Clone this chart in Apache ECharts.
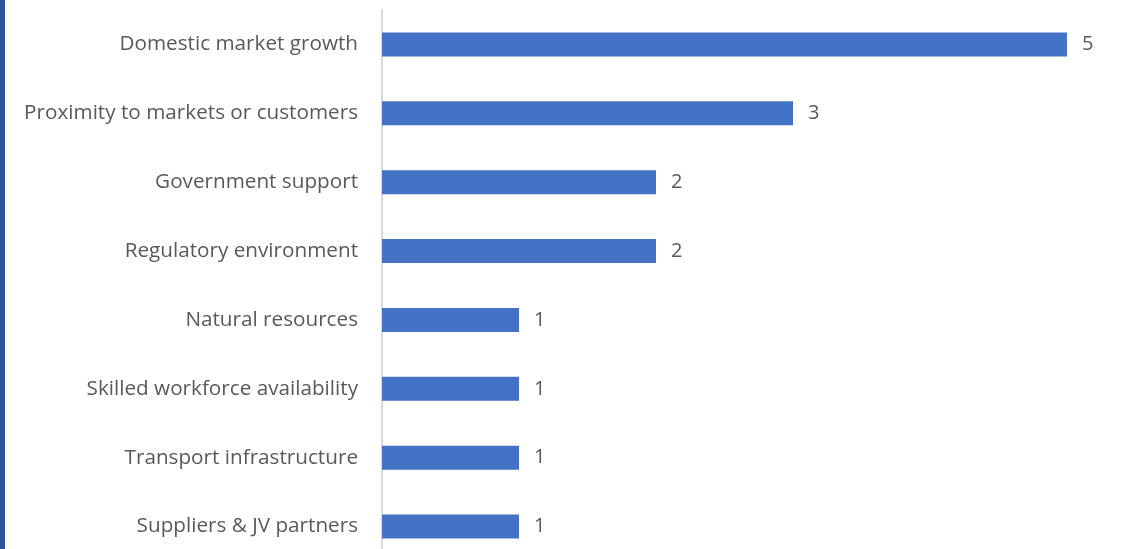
<!DOCTYPE html>
<html><head><meta charset="utf-8">
<script src="https://cdn.jsdelivr.net/npm/echarts@6/dist/echarts.min.js"></script>
<style>html,body{margin:0;padding:0;background:#fff;overflow:hidden}#c{width:1122px;height:561px}</style>
</head><body><div id="c"></div>
<script>
const categories = ["Domestic market growth","Proximity to markets or customers","Government support","Regulatory environment","Natural resources","Skilled workforce availability","Transport infrastructure","Suppliers & JV partners"];
const values = [5,3,2,2,1,1,1,1];
const chart = echarts.init(document.getElementById('c'));
chart.setOption({
  animation:false,
  graphic:[{type:'rect',left:0,top:0,shape:{width:5,height:561},style:{fill:'#2F5597'}}],
  grid:{left:382,top:10,right:55,bottom:0,containLabel:false},
  xAxis:{type:'value',min:0,max:5,show:false},
  yAxis:{type:'category',inverse:true,data:categories,
    axisLine:{show:true,lineStyle:{color:'#D9D9D9',width:2}},
    axisTick:{show:false},
    axisLabel:{color:'#595959',fontFamily:'Open Sans',fontSize:20.7,margin:24}},
  series:[{type:'bar',data:values,barWidth:24,itemStyle:{color:'#4472C4'},
    label:{show:true,position:'right',distance:15,color:'#595959',fontFamily:'Open Sans',fontSize:20}}]
});
</script></body></html>
